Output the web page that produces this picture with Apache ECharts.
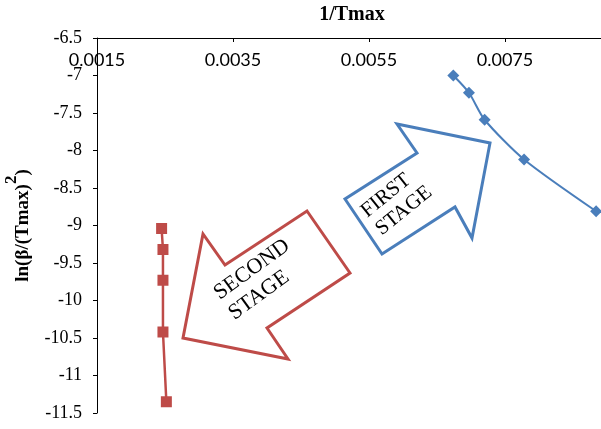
<!DOCTYPE html>
<html>
<head>
<meta charset="utf-8">
<script src="https://cdn.jsdelivr.net/npm/echarts@6/dist/echarts.min.js"></script>
<style>
  html, body { margin: 0; padding: 0; background: #ffffff; }
  #chart { width: 601px; height: 429px; }
</style>
</head>
<body>
<div id="chart"></div>
<script>
// Kissinger plot: ln(β/Tmax²) against 1/Tmax for the two decomposition stages
const firstStageX = [0.00674, 0.00697, 0.00720, 0.00778, 0.00884];
const firstStageY = [-7.00, -7.23, -7.59, -8.12, -8.81];
const secondStageX = [0.00245, 0.00247, 0.00247, 0.00247, 0.00252];
const secondStageY = [-9.04, -9.32, -9.73, -10.42, -11.35];

const xTickMin = 0.0015;
const xTickStep = 0.002;
const xAxisMax = 0.009;
const yAxisMin = -11.5;
const yAxisMax = -6.5;
const yTickStep = 0.5;

const firstStageLabel = 'FIRST\nSTAGE';
const secondStageLabel = 'SECOND\nSTAGE';

const blue = '#4A7EBB';
const red = '#BE4B48';

const toPairs = (xs, ys) => xs.map((x, i) => [x, ys[i]]);

const chart = echarts.init(document.getElementById('chart'), null, { renderer: 'canvas' });

const deg = Math.PI / 180;

chart.setOption({
  backgroundColor: '#ffffff',
  animation: false,
  grid: { left: 97, top: 38, width: 510, height: 375, containLabel: false, outerBoundsMode: 'none' },
  xAxis: {
    type: 'value',
    position: 'top',
    min: xTickMin,
    max: xAxisMax,
    interval: xTickStep,
    name: '1/Tmax',
    nameLocation: 'middle',
    nameGap: 13,
    nameMoveOverlap: false,
    nameTextStyle: { fontFamily: 'Liberation Serif', fontWeight: 'bold', fontSize: 20, color: '#000' },
    axisLine: { show: true, onZero: false, lineStyle: { color: '#000', width: 1 } },
    axisTick: { show: true, inside: true, length: 4, lineStyle: { color: '#000' } },
    axisLabel: {
      inside: true,
      margin: 13,
      showMaxLabel: false,
      fontFamily: 'Lato',
      fontSize: 18,
      color: '#000',
      formatter: v => v.toFixed(4)
    },
    splitLine: { show: false }
  },
  yAxis: {
    type: 'value',
    min: yAxisMin,
    max: yAxisMax,
    interval: yTickStep,
    name: '{m|ln(β/(Tmax)}{s|2}{m|)}',
    nameLocation: 'middle',
    nameRotate: 90,
    nameGap: 64,
    nameMoveOverlap: false,
    nameTextStyle: {
      rich: {
        m: { fontFamily: 'Liberation Serif', fontWeight: 'bold', fontSize: 19, color: '#000', lineHeight: 30, verticalAlign: 'bottom' },
        s: { fontFamily: 'Liberation Serif', fontWeight: 'bold', fontSize: 17, color: '#000', lineHeight: 30, verticalAlign: 'top' }
      }
    },
    axisLine: { show: true, onZero: false, lineStyle: { color: '#000', width: 1 } },
    axisTick: { show: true, inside: false, length: 4, lineStyle: { color: '#000' } },
    axisLabel: {
      margin: 15,
      fontFamily: 'Liberation Serif',
      fontSize: 18,
      color: '#000'
    },
    splitLine: { show: false }
  },
  series: [
    {
      name: 'First stage',
      type: 'line',
      data: toPairs(firstStageX, firstStageY),
      smooth: 0.25,
      symbol: 'diamond',
      symbolSize: 12,
      lineStyle: { color: blue, width: 2 },
      itemStyle: { color: blue },
      z: 3
    },
    {
      name: 'Second stage',
      type: 'line',
      data: toPairs(secondStageX, secondStageY),
      symbol: 'rect',
      symbolSize: 11,
      lineStyle: { color: red, width: 2.5 },
      itemStyle: { color: red },
      z: 3
    }
  ],
  graphic: [
    {
      type: 'polygon',
      z: 10,
      shape: { points: [[345, 199], [382, 254], [455, 207], [472, 238], [490, 143], [397, 124], [417, 153]] },
      style: { fill: 'none', stroke: blue, lineWidth: 3, lineJoin: 'miter' }
    },
    {
      type: 'polygon',
      z: 10,
      shape: { points: [[307, 211], [350, 273], [267, 328], [288, 359], [183, 338], [203, 234], [225, 265]] },
      style: { fill: 'none', stroke: red, lineWidth: 3, lineJoin: 'miter' }
    },
    {
      type: 'group',
      x: 364,
      y: 214,
      rotation: 39 * deg,
      z: 11,
      children: [{
        type: 'text',
        x: 0,
        y: -12,
        style: {
          text: firstStageLabel,
          fontFamily: 'Liberation Serif',
          fontSize: 21,
          lineHeight: 23,
          fill: '#000',
          textAlign: 'left',
          textVerticalAlign: 'top'
        }
      }]
    },
    {
      type: 'group',
      x: 216,
      y: 295,
      rotation: 36 * deg,
      z: 11,
      children: [{
        type: 'text',
        x: 0,
        y: -12,
        style: {
          text: secondStageLabel,
          fontFamily: 'Liberation Serif',
          fontSize: 22,
          lineHeight: 25,
          fill: '#000',
          textAlign: 'left',
          textVerticalAlign: 'top'
        }
      }]
    }
  ]
});
</script>
</body>
</html>
